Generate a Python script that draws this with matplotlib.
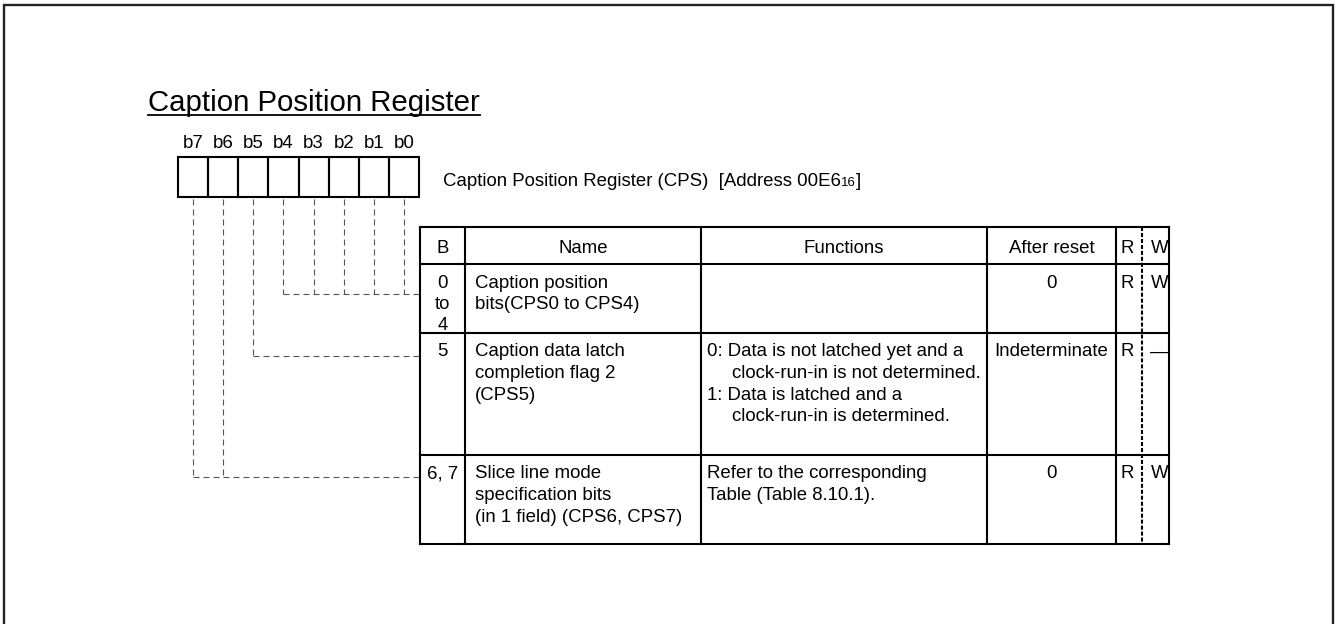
import matplotlib.pyplot as plt
from matplotlib.patches import Rectangle

plt.rcParams['font.family'] = ['Liberation Sans', 'DejaVu Sans']
plt.rcParams['lines.scale_dashes'] = False

# ---- data ----
title = "Caption Position Register"
reg_name = "Caption Position Register (CPS)  [Address 00E6"
reg_sub = "16"
bit_labels = ["b7", "b6", "b5", "b4", "b3", "b2", "b1", "b0"]
headers = ["B", "Name", "Functions", "After reset"]
row_bits = [["0", "to", "4"], ["5"], ["6, 7"]]
row_names = [["Caption position", "bits(CPS0 to CPS4)"],
             ["Caption data latch", "completion flag 2", "(CPS5)"],
             ["Slice line mode", "specification bits", "(in 1 field) (CPS6, CPS7)"]]
# each function line: (text, hanging indent?)
row_funcs = [[],
             [("0: Data is not latched yet and a", False),
              ("clock-run-in is not determined.", True),
              ("1: Data is latched and a", False),
              ("clock-run-in is determined.", True)],
             [("Refer to the corresponding", False),
              ("Table (Table 8.10.1).", False)]]
row_reset = ["0", "Indeterminate", "0"]
row_r = ["R", "R", "R"]
row_w = ["W", "\u2014", "W"]
# which bits link to which table row
row_links = [[0, 1, 2, 3, 4], [5], [6, 7]]

# ---- layout (pixels) ----
W, H = 1335, 624
FS = 13.4
box_x0, box_x1, box_y0, box_y1 = 178, 419, 157, 197
col_x = [420, 465, 701, 987, 1116, 1169]
row_y = [227, 264, 333, 455, 544]
rw_div = 1142
link_y = [294, 356, 477]
lh = 21.5
ink = "black"

fig = plt.figure(figsize=(W / 100, H / 100), dpi=100)
ax = fig.add_axes([0, 0, 1, 1])
ax.set_xlim(0, W)
ax.set_ylim(H, 0)
ax.axis("off")

# outer frame (bottom runs off the page)
ax.plot([4, 4, 1333, 1333], [H + 5, 5, 5, H + 5], color="#222", lw=1.7,
        solid_joinstyle="miter")

# title with underline
t = ax.text(148, 111, title, fontsize=21.2, va="baseline", ha="left")
fig.canvas.draw()
r = fig.canvas.get_renderer()
bb = t.get_window_extent(r).transformed(ax.transData.inverted())
ax.plot([148, bb.x1], [114.5, 114.5], color=ink, lw=1.3)

# register cells
cw = (box_x1 - box_x0) / 8
centers = []
for i, lab in enumerate(bit_labels):
    x = box_x0 + i * cw
    ax.add_patch(Rectangle((x, box_y0), cw, box_y1 - box_y0, fill=False,
                           ec=ink, lw=1.5))
    cx = x + cw / 2
    centers.append(cx)
    ax.text(cx, 148, lab, fontsize=FS, ha="center", va="baseline")

# register name with subscript
t2 = ax.text(443, 186, reg_name, fontsize=FS, va="baseline", ha="left")
fig.canvas.draw()
bb2 = t2.get_window_extent(r).transformed(ax.transData.inverted())
t3 = ax.text(bb2.x1, 186, reg_sub, fontsize=9.5, va="baseline", ha="left")
fig.canvas.draw()
bb3 = t3.get_window_extent(r).transformed(ax.transData.inverted())
ax.text(bb3.x1, 186, "]", fontsize=FS, va="baseline", ha="left")

# dashed connectors from bits to rows
for k, bits in enumerate(row_links):
    y = link_y[k]
    xs = [centers[7 - b] for b in bits]
    for x in xs:
        ax.plot([x, x], [box_y1 + 1.5, y], color="#555", lw=0.8,
                ls=(0, (4.3, 2.9)))
    ax.plot([min(xs), col_x[0]], [y, y], color="#555", lw=0.8,
            ls=(0, (4.3, 2.9)))

# table grid
for x in col_x:
    ax.plot([x, x], [row_y[0], row_y[-1]], color=ink, lw=1.5)
for y in row_y:
    ax.plot([col_x[0], col_x[-1]], [y, y], color=ink, lw=1.5)
ax.plot([rw_div, rw_div], [row_y[0], row_y[-1]], color=ink, lw=1.5,
        ls=(0, (2.9, 1.4)))

# header
hb = row_y[0] + 26
for j, h in enumerate(headers):
    ax.text((col_x[j] + col_x[j + 1]) / 2, hb, h, fontsize=FS,
            ha="center", va="baseline")
ax.text(1120, hb, "R", fontsize=FS, ha="left", va="baseline")
ax.text(1151, hb, "W", fontsize=FS, ha="left", va="baseline")

# body rows
for i in range(3):
    b0 = row_y[i + 1] + 23.5
    for k, s in enumerate(row_bits[i]):
        ax.text((col_x[0] + col_x[1]) / 2, b0 + k * lh, s, fontsize=FS,
                ha="center", va="baseline")
    for k, s in enumerate(row_names[i]):
        ax.text(col_x[1] + 10, b0 + k * lh, s, fontsize=FS,
                ha="left", va="baseline")
    for k, (s, ind) in enumerate(row_funcs[i]):
        ax.text(col_x[2] + 6 + (25 if ind else 0), b0 + k * lh, s,
                fontsize=FS, ha="left", va="baseline")
    ax.text((col_x[3] + col_x[4]) / 2, b0, row_reset[i], fontsize=FS,
            ha="center", va="baseline")
    ax.text(1120, b0, row_r[i], fontsize=FS, ha="left", va="baseline")
    ax.text(1151 if row_w[i] == "W" else 1150, b0, row_w[i], fontsize=FS,
            ha="left", va="baseline")

fig.savefig("out.png", dpi=100)
